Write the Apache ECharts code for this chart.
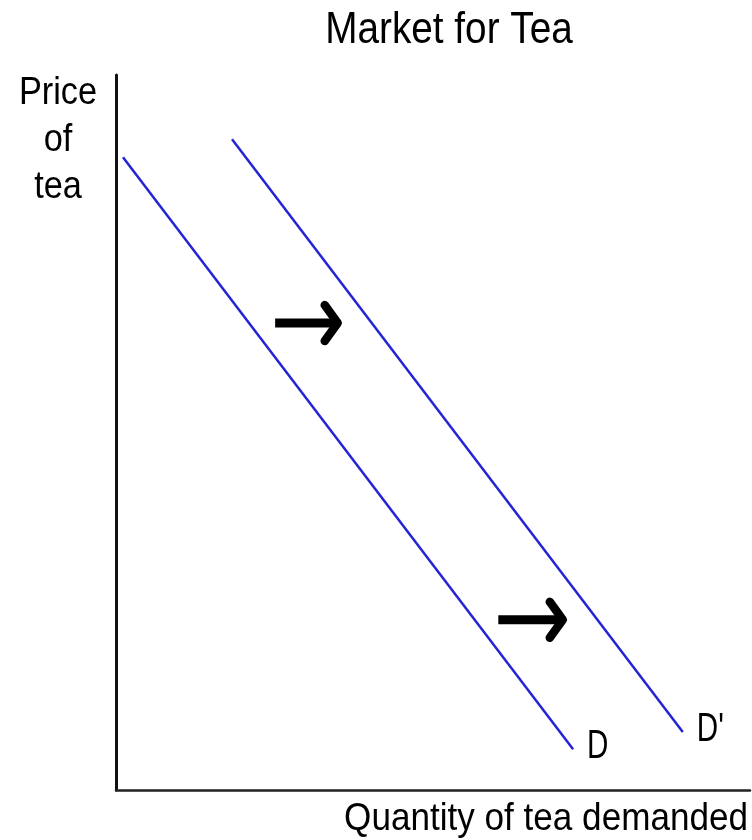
<!DOCTYPE html>
<html>
<head>
<meta charset="utf-8">
<title>Market for Tea</title>
<script src="https://cdn.jsdelivr.net/npm/echarts@6/dist/echarts.min.js"></script>
<style>
  html, body { margin: 0; padding: 0; background: #fff; }
  #chart { width: 752px; height: 840px; }
</style>
</head>
<body>
<div id="chart"></div>
<script>
// Demand curves: [quantity, price] endpoints on a 0–100 scale
const curveNames = ['D', "D'"];
const demandD = [[1.1, 88.5], [72.1, 5.7]];
const demandShifted = [[18.3, 91.0], [89.4, 8.1]];
// Shift arrows: [start quantity, end quantity, price level]
const shiftArrows = [[25.1, 35.6, 65.3], [60.3, 71.1, 23.8]];

const FONT = "'Liberation Sans', Arial, sans-serif";
const LINE_BLUE = '#2424d4';

const chart = echarts.init(document.getElementById('chart'), null, { renderer: 'canvas' });

// Curve name labels sit just right of each curve's lower end
const curveEnds = [demandD, demandShifted].map(function (c, i) {
  const end = c[c.length - 1];
  return [end[0], end[1], curveNames[i]];
});

function curveSeries(name, data) {
  return {
    type: 'line',
    name: name,
    data: data,
    symbol: 'none',
    silent: true,
    lineStyle: { color: LINE_BLUE, width: 2.5 }
  };
}

chart.setOption({
  animation: false,
  backgroundColor: '#fff',
  grid: { left: 116, right: 2, top: 75, bottom: 50 },
  xAxis: {
    type: 'value', min: 0, max: 100,
    axisLine: { show: true, lineStyle: { color: '#222', width: 2.5 } },
    axisTick: { show: false }, axisLabel: { show: false }, splitLine: { show: false }
  },
  yAxis: {
    type: 'value', min: 0, max: 100,
    axisLine: { show: true, lineStyle: { color: '#111', width: 3 } },
    axisTick: { show: false }, axisLabel: { show: false }, splitLine: { show: false }
  },
  graphic: [
    {
      type: 'text', x: 449, y: 31, scaleX: 0.88,
      style: { text: 'Market for Tea', fill: '#000', font: '44px ' + FONT, align: 'center', verticalAlign: 'middle' }
    },
    {
      type: 'text', x: 58, y: 140, scaleX: 0.88,
      style: { text: 'Price\nof\ntea', fill: '#000', font: '39px ' + FONT, align: 'center', verticalAlign: 'middle', lineHeight: 47 }
    },
    {
      type: 'text', x: 748, y: 819, scaleX: 0.9,
      style: { text: 'Quantity of tea demanded', fill: '#000', font: '39px ' + FONT, align: 'right', verticalAlign: 'middle' }
    }
  ],
  series: [
    curveSeries(curveNames[0], demandD),
    curveSeries(curveNames[1], demandShifted),
    {
      type: 'custom',
      silent: true,
      data: shiftArrows,
      encode: { x: [0, 1], y: 2 },
      renderItem: function (params, api) {
        const start = api.coord([api.value(0), api.value(2)]);
        const tip = api.coord([api.value(1), api.value(2)]);
        const tx = tip[0] - 4, ty = tip[1];
        return {
          type: 'group',
          children: [
            {
              type: 'line',
              shape: { x1: start[0], y1: start[1], x2: tx - 2, y2: ty },
              style: { stroke: '#000', lineWidth: 9 }
            },
            {
              type: 'polyline',
              shape: { points: [[tx - 13, ty - 18], [tx, ty], [tx - 13, ty + 18]] },
              style: { stroke: '#000', fill: null, lineWidth: 8.5, lineJoin: 'round', lineCap: 'round' }
            }
          ]
        };
      }
    },
    {
      type: 'custom',
      silent: true,
      data: curveEnds,
      encode: { x: 0, y: 1 },
      renderItem: function (params, api) {
        const p = api.coord([api.value(0), api.value(1)]);
        return {
          type: 'text',
          x: p[0] + 14,
          y: p[1] - 2,
          scaleX: 0.74,
          style: {
            text: curveEnds[params.dataIndex][2],
            fill: '#000',
            font: '40px ' + FONT,
            align: 'left',
            verticalAlign: 'middle'
          }
        };
      }
    }
  ]
});
</script>
</body>
</html>
